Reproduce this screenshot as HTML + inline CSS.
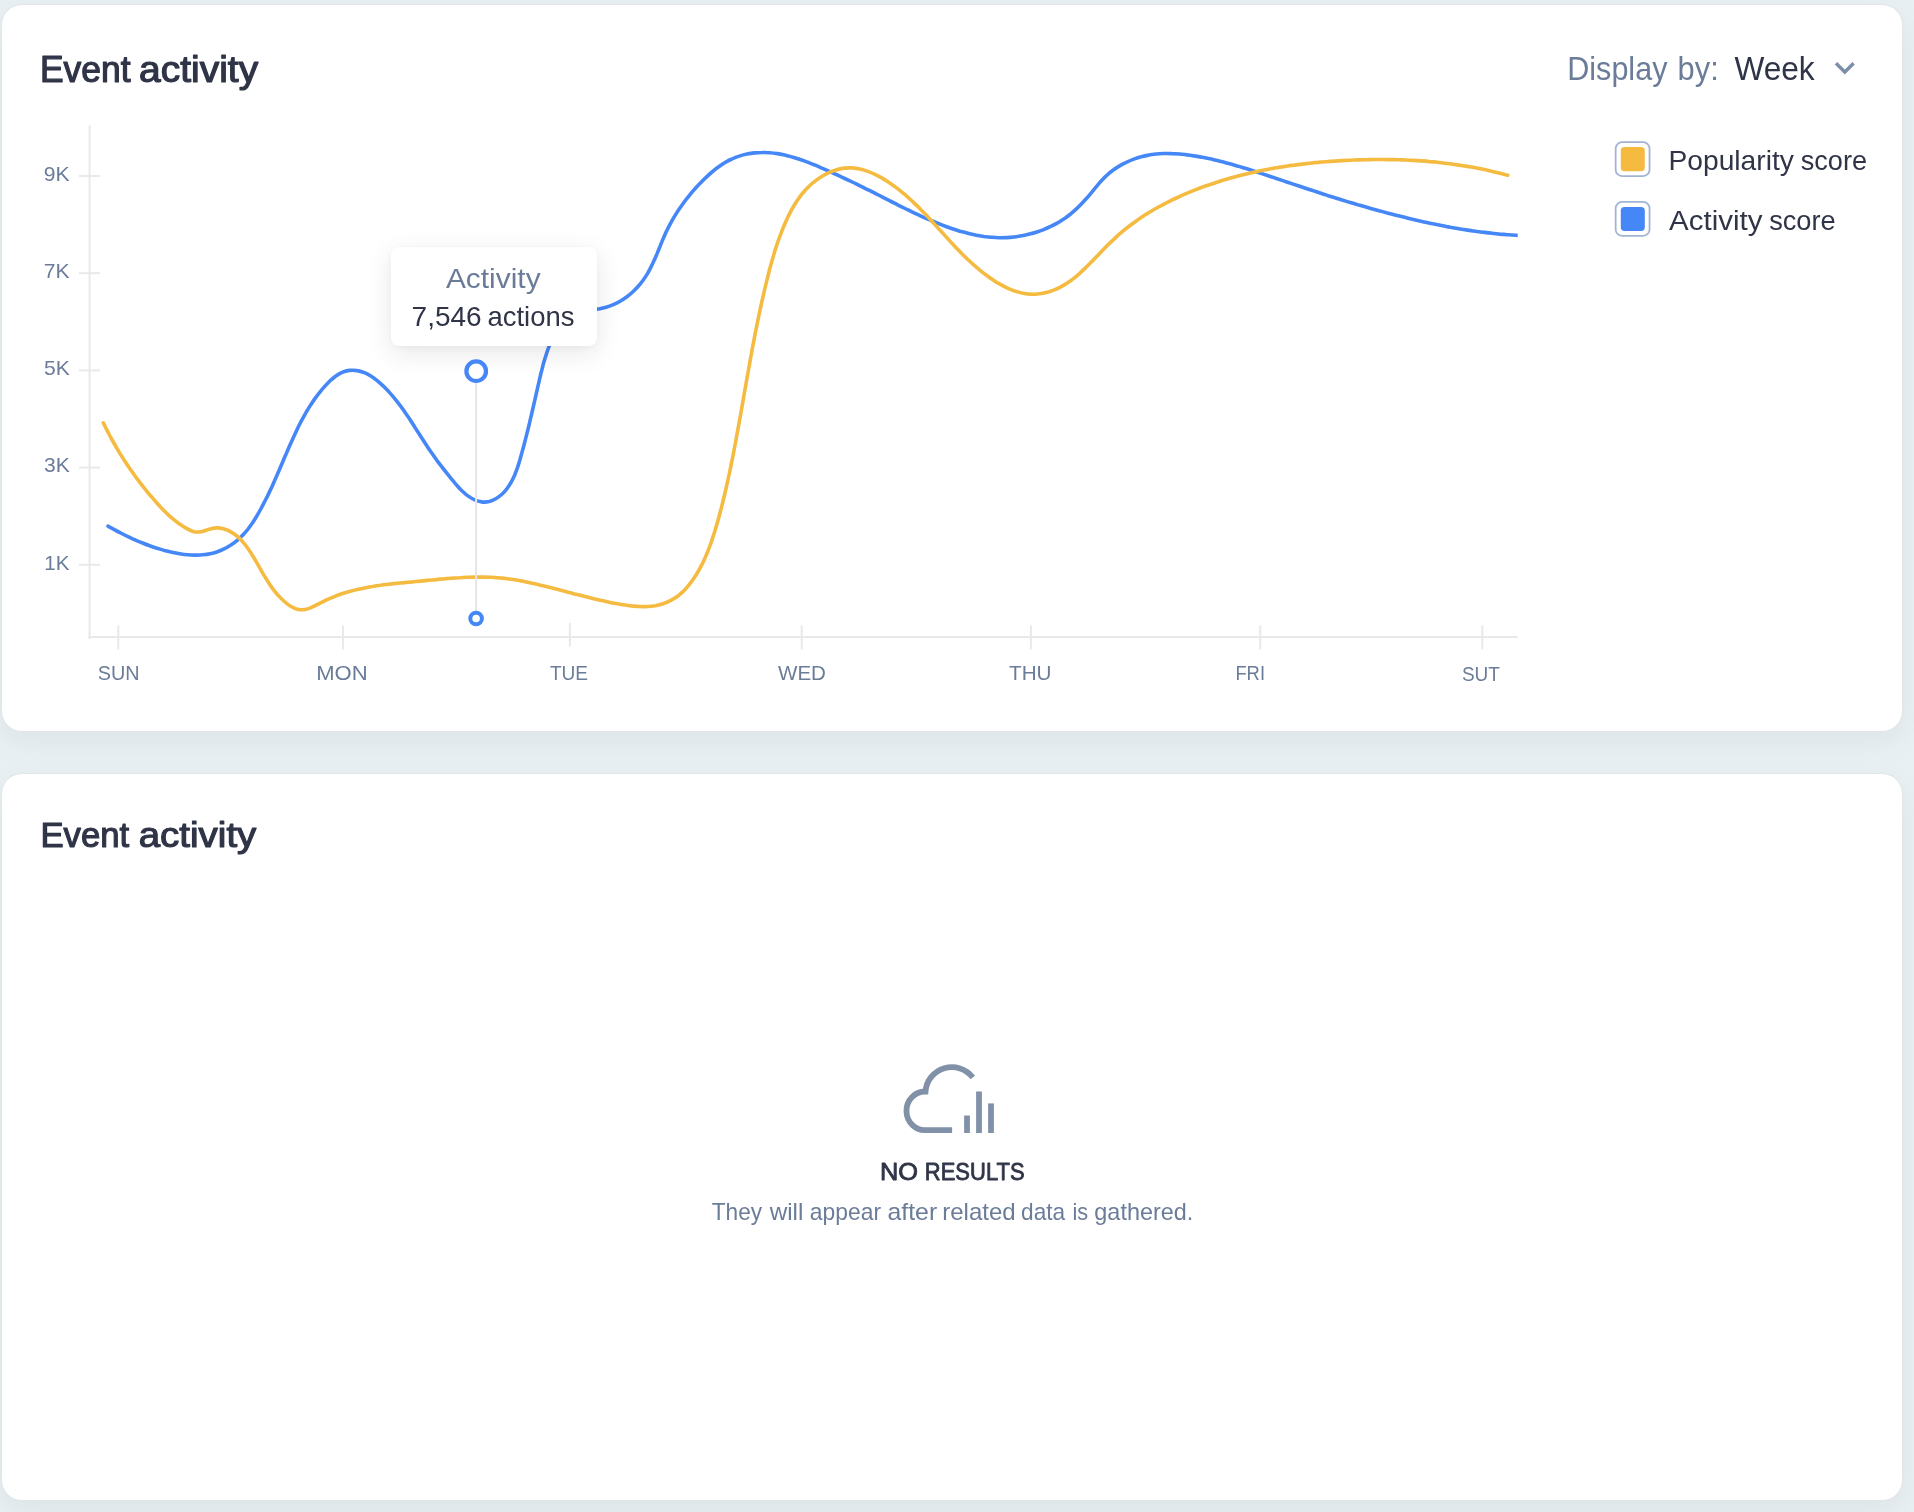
<!DOCTYPE html>
<html lang="en">
<head>
<meta charset="utf-8">
<title>Event activity</title>
<style>
  html, body { margin: 0; padding: 0; }
  body {
    width: 1914px; height: 1512px; overflow: hidden; position: relative;
    background: #e9f0f3;
    font-family: "Liberation Sans", sans-serif;
  }
  .card {
    position: absolute; left: 2px; width: 1900px; height: 726px;
    background: #ffffff; border-radius: 20px;
    box-shadow: 0 0 0 1px rgba(226, 228, 229, 0.9), 0 9px 26px rgba(120, 140, 150, 0.12);
  }
  #card1 { top: 4.5px; }
  #card2 { top: 774px; }
  #tooltip {
    position: absolute; left: 391.3px; top: 246.9px; width: 205.8px; height: 98.8px;
    background: #ffffff; border-radius: 8px;
    box-shadow: 0 7px 26px rgba(25, 28, 38, 0.10), 0 2px 6px rgba(25, 28, 38, 0.035);
  }
  svg { position: absolute; left: 0; top: 0; }
  #labels { will-change: transform; }
  text { font-family: "Liberation Sans", sans-serif; }
  .slate { fill: #6b7c99; }
  .dark { fill: #2f3447; }
</style>
</head>
<body>
<div class="card" id="card1"></div>
<div class="card" id="card2"></div>

<!-- chart layer (below tooltip) -->
<svg id="chart" width="1914" height="1512" viewBox="0 0 1914 1512">
  <!-- axes -->
  <g stroke="#e9e9ea" stroke-width="2" fill="none">
    <line x1="89.6" y1="125.6" x2="89.6" y2="638.9"/>
    <line x1="88.6" y1="636.9" x2="1517.5" y2="636.9"/>
    <line x1="79" y1="176" x2="100" y2="176"/>
    <line x1="79" y1="273.2" x2="100" y2="273.2"/>
    <line x1="79" y1="370.4" x2="100" y2="370.4"/>
    <line x1="79" y1="467.6" x2="100" y2="467.6"/>
    <line x1="79" y1="564.8" x2="100" y2="564.8"/>
    <line x1="118.3" y1="625.4" x2="118.3" y2="649.4"/>
    <line x1="343" y1="625.4" x2="343" y2="649.4"/>
    <line x1="569.9" y1="622.8" x2="569.9" y2="646.6"/>
    <line x1="801.7" y1="625.4" x2="801.7" y2="649.4"/>
    <line x1="1030.9" y1="625.4" x2="1030.9" y2="649.4"/>
    <line x1="1260.3" y1="625.4" x2="1260.3" y2="649.4"/>
    <line x1="1482.3" y1="625.4" x2="1482.3" y2="649.4"/>
  </g>
  <!-- series (blue under yellow) -->
  <clipPath id="plotclip"><rect x="90" y="100" width="1427.7" height="560"/></clipPath>
  <path d="M108.0 526.2C109.1 526.8 112.5 528.7 114.8 529.9C117.1 531.2 119.4 532.4 121.7 533.5C124.0 534.7 126.3 535.8 128.6 536.9C130.9 538.0 133.2 539.1 135.5 540.1C137.9 541.1 140.2 542.1 142.6 543.0C144.9 544.0 147.3 544.9 149.7 545.7C152.1 546.6 154.5 547.4 157.0 548.2C159.4 548.9 161.9 549.7 164.4 550.4C166.9 551.0 169.4 551.7 171.9 552.2C174.5 552.8 177.0 553.3 179.6 553.7C182.2 554.1 184.8 554.5 187.3 554.7C189.9 555.0 192.5 555.1 195.0 555.1C197.6 555.2 200.2 555.1 202.7 554.8C205.2 554.6 207.7 554.3 210.2 553.7C212.7 553.2 215.1 552.5 217.5 551.7C219.9 550.9 222.3 549.9 224.6 548.7C226.9 547.6 229.1 546.2 231.3 544.8C233.4 543.4 235.5 541.8 237.5 540.1C239.5 538.5 241.3 536.7 243.1 534.8C244.9 533.0 246.5 531.0 248.1 529.0C249.7 526.9 251.1 524.8 252.6 522.7C254.0 520.6 255.3 518.4 256.7 516.2C258.0 514.0 259.3 511.7 260.5 509.5C261.7 507.2 262.9 505.0 264.1 502.7C265.3 500.4 266.4 498.1 267.6 495.8C268.7 493.5 269.8 491.2 270.9 488.9C272.0 486.6 273.0 484.2 274.1 481.9C275.1 479.5 276.1 477.2 277.2 474.8C278.2 472.5 279.2 470.1 280.2 467.8C281.2 465.4 282.2 463.0 283.2 460.7C284.2 458.3 285.3 455.9 286.3 453.6C287.3 451.2 288.3 448.9 289.3 446.5C290.4 444.1 291.4 441.8 292.5 439.4C293.5 437.1 294.6 434.8 295.7 432.4C296.8 430.1 297.9 427.8 299.0 425.5C300.2 423.2 301.4 420.9 302.6 418.7C303.8 416.4 305.1 414.2 306.3 412.0C307.6 409.8 309.0 407.6 310.4 405.4C311.7 403.3 313.2 401.1 314.6 399.1C316.1 397.0 317.7 394.9 319.3 392.9C320.9 390.8 322.5 388.9 324.3 386.9C326.0 385.0 327.8 383.0 329.6 381.2C331.5 379.5 333.5 377.7 335.5 376.2C337.6 374.8 339.7 373.4 342.0 372.4C344.3 371.5 346.8 370.8 349.3 370.4C351.8 370.1 354.5 370.2 357.0 370.6C359.5 370.9 362.1 371.7 364.4 372.6C366.8 373.6 369.1 374.9 371.2 376.2C373.4 377.6 375.5 379.3 377.5 380.9C379.5 382.6 381.4 384.3 383.3 386.1C385.1 387.9 386.9 389.7 388.7 391.6C390.4 393.5 392.1 395.4 393.7 397.3C395.4 399.3 397.0 401.3 398.5 403.3C400.1 405.3 401.6 407.4 403.1 409.5C404.5 411.6 406.0 413.7 407.4 415.8C408.9 417.9 410.3 420.1 411.7 422.3C413.1 424.4 414.5 426.6 415.8 428.8C417.2 430.9 418.6 433.1 420.0 435.3C421.4 437.5 422.8 439.6 424.2 441.8C425.6 443.9 427.0 446.1 428.4 448.2C429.8 450.3 431.3 452.4 432.8 454.5C434.2 456.6 435.7 458.7 437.2 460.8C438.8 462.8 440.3 464.9 441.9 466.9C443.4 468.9 445.0 470.9 446.6 472.9C448.2 474.9 449.8 476.9 451.4 478.9C453.1 480.9 454.7 482.9 456.4 484.9C458.1 486.8 459.8 488.8 461.6 490.5C463.5 492.3 465.4 494.1 467.5 495.6C469.6 497.1 471.9 498.6 474.2 499.6C476.6 500.7 479.2 501.6 481.7 501.9C484.1 502.3 486.7 502.1 489.2 501.6C491.6 501.0 494.0 499.8 496.2 498.5C498.3 497.3 500.3 495.7 502.2 494.0C504.0 492.4 505.6 490.5 507.1 488.5C508.6 486.5 510.0 484.4 511.2 482.2C512.4 480.0 513.5 477.6 514.6 475.2C515.6 472.8 516.5 470.4 517.4 467.9C518.2 465.4 519.0 462.8 519.8 460.3C520.5 457.7 521.2 455.1 521.9 452.6C522.6 450.1 523.3 447.6 524.0 445.0C524.6 442.5 525.3 440.0 525.9 437.6C526.5 435.1 527.2 432.6 527.8 430.1C528.4 427.7 529.0 425.2 529.6 422.7C530.1 420.3 530.7 417.8 531.3 415.4C531.9 412.9 532.4 410.5 533.0 408.0C533.6 405.5 534.1 403.1 534.7 400.6C535.3 398.1 535.8 395.7 536.4 393.2C537.0 390.7 537.5 388.2 538.1 385.7C538.7 383.2 539.3 380.7 539.8 378.2C540.4 375.7 541.0 373.1 541.7 370.6C542.3 368.1 542.9 365.5 543.6 363.0C544.3 360.5 545.1 358.0 545.9 355.6C546.7 353.1 547.5 350.6 548.4 348.2C549.3 345.8 550.3 343.4 551.3 341.0C552.3 338.7 553.5 336.4 554.7 334.2C555.9 331.9 557.2 329.7 558.6 327.6C560.0 325.5 561.5 323.3 563.2 321.5C564.9 319.7 566.7 317.9 568.7 316.6C570.8 315.2 573.2 314.2 575.6 313.3C578.0 312.5 580.7 312.0 583.2 311.4C585.8 310.9 588.4 310.6 591.0 310.2C593.5 309.8 596.1 309.5 598.6 309.0C601.1 308.6 603.6 308.0 606.1 307.3C608.5 306.6 610.9 305.7 613.3 304.7C615.6 303.7 617.9 302.5 620.1 301.2C622.4 299.9 624.5 298.5 626.6 297.0C628.7 295.4 630.7 293.8 632.6 292.0C634.5 290.3 636.3 288.4 638.0 286.5C639.8 284.6 641.4 282.6 642.9 280.5C644.4 278.4 645.8 276.3 647.2 274.1C648.5 271.9 649.7 269.6 650.8 267.4C652.0 265.1 653.1 262.8 654.1 260.4C655.2 258.1 656.2 255.7 657.2 253.4C658.1 251.0 659.1 248.6 660.1 246.2C661.0 243.8 662.0 241.4 663.0 239.1C664.0 236.7 665.1 234.4 666.1 232.0C667.2 229.7 668.4 227.4 669.6 225.1C670.8 222.9 672.0 220.6 673.3 218.4C674.6 216.2 676.0 214.0 677.3 211.9C678.7 209.7 680.2 207.6 681.7 205.5C683.1 203.4 684.7 201.3 686.2 199.3C687.8 197.3 689.4 195.3 691.0 193.3C692.7 191.4 694.4 189.4 696.1 187.5C697.8 185.6 699.6 183.8 701.4 182.0C703.2 180.1 705.0 178.3 706.9 176.6C708.8 174.8 710.7 173.1 712.6 171.5C714.6 169.8 716.6 168.2 718.7 166.8C720.7 165.3 722.9 163.8 725.1 162.5C727.3 161.2 729.6 160.0 732.0 159.0C734.3 157.9 736.8 156.9 739.3 156.1C741.8 155.3 744.4 154.6 746.9 154.1C749.5 153.6 752.0 153.2 754.5 152.9C757.1 152.6 759.6 152.5 762.1 152.5C764.7 152.4 767.2 152.5 769.7 152.7C772.2 152.9 774.7 153.2 777.2 153.6C779.7 154.0 782.2 154.5 784.7 155.0C787.2 155.6 789.6 156.3 792.1 157.0C794.6 157.7 797.0 158.4 799.5 159.3C801.9 160.1 804.3 161.0 806.8 161.9C809.2 162.8 811.6 163.8 814.0 164.7C816.4 165.7 818.8 166.7 821.2 167.8C823.6 168.8 826.0 169.8 828.3 170.9C830.7 171.9 833.0 173.0 835.4 174.1C837.7 175.1 840.0 176.2 842.3 177.3C844.7 178.4 847.0 179.5 849.3 180.6C851.6 181.7 853.9 182.8 856.2 183.9C858.5 185.1 860.8 186.2 863.1 187.3C865.3 188.5 867.6 189.6 869.9 190.7C872.2 191.9 874.4 193.0 876.7 194.2C879.0 195.3 881.3 196.5 883.5 197.7C885.8 198.8 888.1 200.0 890.4 201.1C892.6 202.3 894.9 203.4 897.2 204.6C899.5 205.7 901.8 206.9 904.1 208.0C906.4 209.1 908.7 210.3 911.0 211.4C913.3 212.5 915.7 213.6 918.0 214.7C920.3 215.8 922.7 216.8 925.0 217.9C927.4 218.9 929.8 220.0 932.2 221.0C934.6 222.0 937.0 223.0 939.4 223.9C941.8 224.9 944.2 225.8 946.6 226.7C949.1 227.6 951.5 228.5 954.0 229.3C956.4 230.1 958.9 230.8 961.3 231.6C963.8 232.3 966.3 232.9 968.8 233.5C971.3 234.1 973.8 234.7 976.3 235.2C978.8 235.7 981.3 236.1 983.8 236.5C986.3 236.8 988.8 237.1 991.3 237.3C993.9 237.5 996.4 237.7 998.9 237.7C1001.5 237.8 1004.0 237.7 1006.6 237.6C1009.1 237.5 1011.7 237.3 1014.2 237.0C1016.8 236.7 1019.3 236.3 1021.9 235.8C1024.4 235.4 1027.0 234.8 1029.5 234.1C1032.0 233.5 1034.5 232.8 1037.0 232.0C1039.4 231.2 1041.9 230.3 1044.3 229.3C1046.7 228.4 1049.0 227.3 1051.3 226.2C1053.6 225.1 1055.9 223.9 1058.1 222.7C1060.3 221.4 1062.4 220.0 1064.5 218.6C1066.6 217.1 1068.6 215.6 1070.6 214.0C1072.6 212.3 1074.5 210.7 1076.4 208.9C1078.2 207.2 1080.1 205.4 1081.8 203.5C1083.6 201.6 1085.4 199.7 1087.1 197.8C1088.8 195.8 1090.4 193.8 1092.1 191.8C1093.7 189.8 1095.3 187.8 1097.0 185.8C1098.6 183.8 1100.3 181.8 1102.1 180.0C1103.8 178.1 1105.6 176.3 1107.6 174.6C1109.5 172.9 1111.5 171.3 1113.6 169.8C1115.6 168.3 1117.8 166.9 1120.0 165.6C1122.2 164.3 1124.4 163.1 1126.8 162.1C1129.1 161.0 1131.4 160.0 1133.8 159.1C1136.3 158.2 1138.7 157.4 1141.2 156.8C1143.6 156.1 1146.2 155.5 1148.7 155.1C1151.2 154.6 1153.7 154.3 1156.3 154.0C1158.8 153.7 1161.4 153.6 1164.0 153.5C1166.5 153.4 1169.1 153.5 1171.7 153.6C1174.2 153.6 1176.8 153.8 1179.4 154.0C1182.0 154.3 1184.5 154.5 1187.1 154.9C1189.7 155.2 1192.2 155.6 1194.8 156.0C1197.3 156.4 1199.9 156.8 1202.4 157.3C1204.9 157.8 1207.4 158.3 1209.9 158.8C1212.4 159.4 1214.9 159.9 1217.4 160.5C1219.9 161.1 1222.4 161.8 1224.9 162.4C1227.4 163.1 1229.8 163.7 1232.3 164.4C1234.8 165.1 1237.2 165.8 1239.7 166.6C1242.1 167.3 1244.6 168.1 1247.0 168.8C1249.5 169.6 1251.9 170.4 1254.4 171.2C1256.8 171.9 1259.2 172.7 1261.7 173.6C1264.1 174.4 1266.5 175.2 1269.0 176.0C1271.4 176.8 1273.8 177.6 1276.3 178.5C1278.7 179.3 1281.1 180.1 1283.6 180.9C1286.0 181.7 1288.4 182.6 1290.9 183.4C1293.3 184.2 1295.7 185.0 1298.2 185.8C1300.6 186.6 1303.0 187.4 1305.5 188.2C1307.9 189.1 1310.3 189.9 1312.8 190.6C1315.2 191.4 1317.7 192.2 1320.1 193.0C1322.5 193.8 1325.0 194.6 1327.4 195.4C1329.9 196.1 1332.3 196.9 1334.8 197.7C1337.2 198.4 1339.7 199.2 1342.1 200.0C1344.6 200.7 1347.0 201.5 1349.5 202.2C1352.0 202.9 1354.4 203.7 1356.9 204.4C1359.3 205.1 1361.8 205.9 1364.3 206.6C1366.7 207.3 1369.2 208.0 1371.7 208.7C1374.2 209.4 1376.6 210.1 1379.1 210.8C1381.6 211.4 1384.1 212.1 1386.5 212.8C1389.0 213.4 1391.5 214.1 1394.0 214.7C1396.5 215.4 1399.0 216.0 1401.5 216.6C1404.0 217.3 1406.5 217.9 1409.0 218.5C1411.5 219.1 1414.0 219.7 1416.5 220.2C1419.0 220.8 1421.5 221.4 1424.0 221.9C1426.5 222.5 1429.0 223.0 1431.5 223.6C1434.0 224.1 1436.5 224.6 1439.0 225.1C1441.6 225.6 1444.1 226.1 1446.6 226.6C1449.1 227.0 1451.7 227.5 1454.2 227.9C1456.7 228.4 1459.2 228.8 1461.8 229.2C1464.3 229.6 1466.8 230.0 1469.4 230.4C1471.9 230.8 1474.5 231.1 1477.0 231.5C1479.5 231.8 1482.1 232.1 1484.6 232.4C1487.2 232.7 1489.7 233.0 1492.3 233.3C1494.8 233.6 1497.4 233.8 1499.9 234.1C1502.5 234.3 1505.0 234.5 1507.6 234.7C1510.2 234.9 1512.7 235.1 1515.3 235.2C1517.9 235.4 1521.7 235.5 1523.0 235.6" fill="none" stroke="#4587f6" stroke-width="3.6" stroke-linecap="round" stroke-linejoin="round" clip-path="url(#plotclip)"/>
  <path d="M103.3 422.8C103.9 424.0 105.6 427.6 106.8 429.9C108.0 432.3 109.3 434.7 110.5 437.0C111.8 439.3 113.1 441.7 114.4 444.0C115.7 446.3 117.0 448.6 118.4 450.8C119.7 453.1 121.1 455.4 122.6 457.6C124.0 459.8 125.4 462.1 126.9 464.3C128.3 466.5 129.8 468.7 131.4 470.8C132.9 473.0 134.4 475.1 136.0 477.3C137.6 479.4 139.1 481.5 140.8 483.6C142.4 485.7 144.0 487.8 145.7 489.9C147.4 491.9 149.0 494.0 150.8 496.0C152.5 498.0 154.2 500.1 156.0 502.0C157.7 504.0 159.5 506.0 161.4 507.9C163.2 509.8 165.1 511.7 167.0 513.6C168.9 515.4 170.9 517.2 172.9 518.9C175.0 520.6 177.1 522.2 179.2 523.8C181.4 525.3 183.7 526.8 186.0 528.1C188.3 529.4 190.8 530.8 193.2 531.4C195.7 532.1 198.2 532.1 200.7 531.8C203.3 531.5 205.8 530.2 208.4 529.5C211.0 528.9 213.7 528.0 216.3 527.9C219.0 527.8 221.7 528.3 224.2 529.0C226.7 529.7 229.1 530.8 231.3 532.1C233.5 533.3 235.6 534.9 237.5 536.5C239.5 538.2 241.3 540.1 243.0 542.1C244.8 544.1 246.4 546.3 248.0 548.5C249.5 550.7 251.0 553.1 252.4 555.4C253.9 557.7 255.2 560.1 256.6 562.4C258.0 564.8 259.3 567.1 260.6 569.4C261.9 571.8 263.2 574.1 264.6 576.3C266.0 578.6 267.3 580.8 268.8 583.0C270.2 585.2 271.7 587.3 273.2 589.4C274.8 591.5 276.4 593.5 278.2 595.4C280.0 597.4 281.8 599.2 283.8 601.0C285.8 602.7 287.9 604.6 290.2 606.0C292.5 607.3 294.9 608.8 297.3 609.3C299.8 609.9 302.4 609.9 305.0 609.5C307.5 609.1 310.1 607.9 312.5 606.9C315.0 605.9 317.4 604.6 319.8 603.4C322.3 602.2 324.7 600.9 327.1 599.7C329.5 598.6 332.0 597.6 334.5 596.6C336.9 595.6 339.4 594.7 341.9 593.8C344.4 593.0 347.0 592.2 349.5 591.5C352.0 590.8 354.6 590.1 357.1 589.5C359.7 588.9 362.3 588.4 364.8 587.9C367.4 587.4 370.0 586.9 372.6 586.5C375.2 586.0 377.8 585.6 380.5 585.3C383.1 584.9 385.7 584.6 388.3 584.3C391.0 584.0 393.6 583.7 396.2 583.4C398.9 583.1 401.5 582.9 404.2 582.6C406.8 582.4 409.5 582.1 412.1 581.9C414.8 581.6 417.4 581.4 420.1 581.1C422.8 580.9 425.4 580.6 428.1 580.3C430.7 580.1 433.4 579.8 436.0 579.6C438.7 579.3 441.3 579.1 444.0 578.9C446.6 578.6 449.3 578.4 451.9 578.2C454.6 578.0 457.2 577.8 459.9 577.7C462.5 577.5 465.2 577.4 467.8 577.3C470.4 577.2 473.1 577.1 475.7 577.1C478.4 577.1 481.0 577.1 483.6 577.1C486.3 577.1 488.9 577.2 491.5 577.3C494.2 577.5 496.8 577.6 499.4 577.9C502.0 578.1 504.7 578.4 507.3 578.7C509.9 579.0 512.5 579.4 515.1 579.8C517.8 580.3 520.4 580.8 523.0 581.3C525.6 581.8 528.2 582.3 530.8 582.9C533.4 583.5 536.0 584.1 538.6 584.7C541.2 585.3 543.8 586.0 546.3 586.6C548.9 587.3 551.5 587.9 554.1 588.6C556.6 589.2 559.2 589.9 561.8 590.6C564.4 591.2 566.9 591.9 569.5 592.6C572.0 593.2 574.6 593.9 577.2 594.5C579.7 595.2 582.3 595.8 584.9 596.5C587.4 597.1 590.0 597.7 592.6 598.4C595.1 599.0 597.7 599.6 600.3 600.2C602.9 600.8 605.4 601.3 608.0 601.9C610.6 602.5 613.2 603.0 615.8 603.5C618.4 604.0 621.1 604.4 623.7 604.8C626.3 605.2 629.0 605.6 631.6 605.9C634.2 606.1 636.9 606.4 639.6 606.5C642.2 606.6 644.9 606.7 647.6 606.5C650.2 606.4 652.9 606.1 655.4 605.7C658.0 605.2 660.6 604.6 663.1 603.7C665.6 602.9 668.1 601.9 670.4 600.7C672.8 599.5 675.0 598.1 677.2 596.6C679.3 595.0 681.3 593.2 683.2 591.4C685.1 589.5 686.9 587.5 688.6 585.4C690.3 583.3 691.9 581.2 693.4 579.0C694.9 576.8 696.3 574.6 697.7 572.3C699.0 570.0 700.3 567.7 701.5 565.4C702.7 563.0 703.9 560.6 704.9 558.2C706.0 555.8 707.0 553.4 708.0 550.9C709.0 548.5 709.9 546.0 710.8 543.5C711.7 541.0 712.5 538.5 713.3 535.9C714.2 533.4 714.9 530.9 715.7 528.3C716.5 525.8 717.2 523.2 717.9 520.7C718.6 518.1 719.3 515.5 720.0 513.0C720.7 510.4 721.4 507.8 722.0 505.3C722.7 502.7 723.3 500.1 723.9 497.5C724.5 495.0 725.1 492.4 725.7 489.8C726.3 487.2 726.9 484.6 727.5 482.0C728.1 479.4 728.6 476.8 729.2 474.2C729.7 471.7 730.3 469.1 730.8 466.5C731.3 463.9 731.8 461.3 732.4 458.7C732.9 456.1 733.4 453.5 733.9 450.9C734.4 448.2 734.9 445.6 735.4 443.0C735.9 440.4 736.4 437.8 736.8 435.2C737.3 432.6 737.8 430.0 738.3 427.4C738.7 424.8 739.2 422.2 739.7 419.6C740.2 417.0 740.6 414.4 741.1 411.8C741.5 409.1 742.0 406.5 742.5 403.9C742.9 401.3 743.4 398.7 743.8 396.1C744.3 393.5 744.8 390.9 745.2 388.3C745.7 385.7 746.1 383.1 746.6 380.4C747.1 377.8 747.5 375.2 748.0 372.6C748.4 370.0 748.9 367.4 749.4 364.8C749.9 362.2 750.3 359.6 750.8 357.0C751.3 354.4 751.8 351.8 752.2 349.1C752.7 346.5 753.2 343.9 753.7 341.3C754.2 338.7 754.7 336.1 755.2 333.5C755.7 330.9 756.3 328.3 756.8 325.7C757.3 323.1 757.8 320.5 758.4 317.9C758.9 315.3 759.4 312.7 760.0 310.1C760.6 307.5 761.1 305.0 761.7 302.4C762.3 299.8 762.9 297.2 763.5 294.6C764.0 292.0 764.7 289.4 765.3 286.8C765.9 284.2 766.5 281.7 767.2 279.1C767.8 276.5 768.5 273.9 769.1 271.3C769.8 268.8 770.5 266.2 771.2 263.6C771.9 261.1 772.6 258.5 773.4 256.0C774.1 253.4 774.9 250.9 775.7 248.4C776.5 245.8 777.4 243.3 778.2 240.8C779.1 238.3 780.0 235.8 781.0 233.4C781.9 230.9 782.9 228.5 783.9 226.0C784.9 223.6 786.0 221.2 787.1 218.8C788.2 216.4 789.4 214.0 790.6 211.7C791.8 209.4 793.1 207.1 794.5 204.8C795.8 202.6 797.3 200.4 798.8 198.3C800.3 196.1 801.9 194.0 803.7 192.0C805.4 190.0 807.2 188.0 809.2 186.2C811.1 184.3 813.2 182.5 815.4 180.9C817.5 179.2 819.8 177.6 822.1 176.2C824.5 174.8 826.9 173.5 829.3 172.4C831.8 171.3 834.3 170.4 836.8 169.7C839.3 169.0 841.9 168.4 844.4 168.1C847.0 167.8 849.5 167.8 852.1 167.9C854.6 168.1 857.2 168.5 859.7 169.0C862.2 169.5 864.7 170.3 867.2 171.1C869.6 172.0 872.1 173.0 874.5 174.2C876.9 175.3 879.3 176.6 881.7 177.9C884.0 179.3 886.3 180.7 888.6 182.2C890.9 183.7 893.1 185.3 895.2 186.9C897.4 188.5 899.5 190.1 901.6 191.8C903.6 193.5 905.7 195.2 907.7 197.0C909.6 198.8 911.6 200.6 913.5 202.4C915.4 204.2 917.3 206.1 919.2 207.9C921.1 209.8 922.9 211.7 924.7 213.6C926.6 215.5 928.4 217.4 930.2 219.4C932.0 221.3 933.7 223.2 935.5 225.2C937.3 227.2 939.1 229.1 940.8 231.1C942.6 233.0 944.4 235.0 946.1 236.9C947.9 238.9 949.7 240.8 951.5 242.8C953.3 244.7 955.1 246.7 956.9 248.6C958.7 250.5 960.6 252.4 962.4 254.2C964.3 256.1 966.2 258.0 968.1 259.8C970.0 261.6 972.0 263.4 974.0 265.2C976.0 266.9 978.0 268.6 980.1 270.3C982.1 272.0 984.2 273.7 986.4 275.3C988.5 276.9 990.7 278.5 993.0 279.9C995.2 281.4 997.5 282.9 999.9 284.2C1002.2 285.5 1004.6 286.8 1007.0 287.9C1009.4 289.0 1011.9 290.0 1014.3 290.9C1016.8 291.7 1019.3 292.4 1021.9 293.0C1024.4 293.5 1027.0 293.9 1029.6 294.1C1032.2 294.3 1034.8 294.2 1037.4 294.0C1040.0 293.8 1042.7 293.4 1045.3 292.8C1047.9 292.2 1050.5 291.4 1053.0 290.4C1055.6 289.5 1058.0 288.4 1060.4 287.2C1062.8 285.9 1065.1 284.6 1067.3 283.1C1069.5 281.6 1071.6 280.1 1073.7 278.4C1075.7 276.8 1077.7 275.0 1079.7 273.3C1081.7 271.5 1083.6 269.7 1085.5 267.9C1087.4 266.0 1089.2 264.1 1091.1 262.3C1093.0 260.4 1094.8 258.5 1096.6 256.5C1098.5 254.6 1100.3 252.7 1102.2 250.8C1104.0 248.9 1105.9 247.0 1107.8 245.1C1109.6 243.3 1111.5 241.4 1113.5 239.6C1115.4 237.8 1117.3 236.0 1119.3 234.2C1121.3 232.5 1123.4 230.8 1125.4 229.1C1127.5 227.4 1129.6 225.8 1131.7 224.2C1133.8 222.6 1136.0 221.1 1138.1 219.6C1140.3 218.0 1142.5 216.6 1144.8 215.1C1147.0 213.7 1149.3 212.3 1151.6 211.0C1153.8 209.6 1156.1 208.3 1158.5 207.0C1160.8 205.7 1163.1 204.5 1165.5 203.3C1167.9 202.1 1170.3 200.9 1172.7 199.7C1175.0 198.6 1177.5 197.5 1179.9 196.4C1182.3 195.3 1184.7 194.2 1187.2 193.2C1189.6 192.2 1192.1 191.2 1194.5 190.2C1197.0 189.2 1199.4 188.3 1201.9 187.3C1204.4 186.4 1206.9 185.5 1209.4 184.7C1211.9 183.8 1214.4 183.0 1216.9 182.2C1219.4 181.4 1222.0 180.6 1224.5 179.8C1227.0 179.1 1229.6 178.3 1232.1 177.6C1234.7 176.9 1237.2 176.2 1239.8 175.6C1242.3 174.9 1244.9 174.3 1247.5 173.7C1250.1 173.1 1252.6 172.5 1255.2 171.9C1257.8 171.4 1260.4 170.8 1263.0 170.3C1265.6 169.8 1268.2 169.3 1270.8 168.8C1273.4 168.3 1276.1 167.9 1278.7 167.4C1281.3 167.0 1283.9 166.6 1286.5 166.2C1289.2 165.8 1291.8 165.4 1294.4 165.1C1297.1 164.7 1299.7 164.4 1302.3 164.1C1305.0 163.8 1307.6 163.5 1310.3 163.2C1312.9 162.9 1315.6 162.6 1318.2 162.4C1320.9 162.1 1323.5 161.9 1326.2 161.7C1328.8 161.5 1331.5 161.3 1334.1 161.1C1336.8 160.9 1339.4 160.8 1342.1 160.6C1344.7 160.5 1347.4 160.3 1350.1 160.2C1352.7 160.1 1355.4 160.0 1358.0 159.9C1360.7 159.8 1363.3 159.7 1366.0 159.7C1368.6 159.6 1371.3 159.6 1373.9 159.5C1376.6 159.5 1379.2 159.5 1381.9 159.5C1384.5 159.5 1387.2 159.5 1389.8 159.6C1392.5 159.6 1395.1 159.7 1397.8 159.7C1400.4 159.8 1403.1 159.9 1405.7 160.0C1408.3 160.1 1411.0 160.3 1413.6 160.4C1416.3 160.6 1418.9 160.7 1421.5 160.9C1424.2 161.1 1426.8 161.3 1429.4 161.6C1432.1 161.8 1434.7 162.0 1437.3 162.3C1440.0 162.6 1442.6 162.9 1445.2 163.2C1447.9 163.5 1450.5 163.8 1453.1 164.2C1455.7 164.6 1458.3 164.9 1461.0 165.4C1463.6 165.8 1466.2 166.2 1468.8 166.6C1471.4 167.1 1474.0 167.6 1476.6 168.1C1479.2 168.6 1481.8 169.1 1484.4 169.6C1487.1 170.2 1489.6 170.8 1492.2 171.4C1494.8 172.0 1497.4 172.6 1500.0 173.2C1502.6 173.9 1506.5 174.9 1507.8 175.3" fill="none" stroke="#f5bb41" stroke-width="3.6" stroke-linecap="round" stroke-linejoin="round"/>
  <!-- hover guide (above series) -->
  <line x1="476.1" y1="381" x2="476.1" y2="612" stroke="#e6e6e7" stroke-width="2"/>
</svg>

<div id="tooltip"></div>

<!-- text + icons layer -->
<svg id="labels" width="1914" height="1512" viewBox="0 0 1914 1512">

  <!-- hover markers -->
  <circle cx="476.2" cy="371.2" r="9.8" fill="#ffffff" stroke="#4587f6" stroke-width="4.2"/>
  <circle cx="476.1" cy="618.5" r="5.8" fill="#ffffff" stroke="#4587f6" stroke-width="4"/>

  <!-- all text (fitted to target ink boxes) -->
  <text class="dark" x="40.00" y="81.5" font-size="36.1" stroke="#2f3447" stroke-width="1.2" stroke-linejoin="round" textLength="90.52" lengthAdjust="spacingAndGlyphs">Event</text>
  <text class="dark" x="139.11" y="81.5" font-size="36.1" stroke="#2f3447" stroke-width="1.2" stroke-linejoin="round" textLength="119.01" lengthAdjust="spacingAndGlyphs">activity</text>
  <text class="dark" x="40.40" y="847.2" font-size="35.8" stroke="#2f3447" stroke-width="1.2" stroke-linejoin="round" textLength="88.78" lengthAdjust="spacingAndGlyphs">Event</text>
  <text class="dark" x="138.73" y="847.2" font-size="35.8" stroke="#2f3447" stroke-width="1.2" stroke-linejoin="round" textLength="117.62" lengthAdjust="spacingAndGlyphs">activity</text>
  <text class="slate" x="1567.28" y="79.8" font-size="32.3" textLength="100.16" lengthAdjust="spacingAndGlyphs">Display</text>
  <text class="slate" x="1677.62" y="79.8" font-size="32.3" textLength="41.11" lengthAdjust="spacingAndGlyphs">by:</text>
  <text class="dark" x="1734.40" y="79.8" font-size="32.3" textLength="80.29" lengthAdjust="spacingAndGlyphs">Week</text>
  <text class="dark" x="1668.50" y="169.8" font-size="27.3" textLength="125.38" lengthAdjust="spacingAndGlyphs">Popularity</text>
  <text class="dark" x="1800.69" y="169.8" font-size="27.3" textLength="66.35" lengthAdjust="spacingAndGlyphs">score</text>
  <text class="dark" x="1669.10" y="229.5" font-size="27.3" textLength="93.35" lengthAdjust="spacingAndGlyphs">Activity</text>
  <text class="dark" x="1769.13" y="229.5" font-size="27.3" textLength="66.58" lengthAdjust="spacingAndGlyphs">score</text>
  <text class="slate" x="445.90" y="288.0" font-size="27.4" textLength="94.70" lengthAdjust="spacingAndGlyphs">Activity</text>
  <text class="dark" x="411.60" y="325.6" font-size="27.4" textLength="70.01" lengthAdjust="spacingAndGlyphs">7,546</text>
  <text class="dark" x="487.40" y="325.6" font-size="27.4" textLength="87.08" lengthAdjust="spacingAndGlyphs">actions</text>
  <text class="slate" x="43.80" y="180.7" font-size="21" textLength="25.87" lengthAdjust="spacingAndGlyphs">9K</text>
  <text class="slate" x="43.80" y="277.9" font-size="21" textLength="25.87" lengthAdjust="spacingAndGlyphs">7K</text>
  <text class="slate" x="43.94" y="375.1" font-size="21" textLength="25.82" lengthAdjust="spacingAndGlyphs">5K</text>
  <text class="slate" x="43.95" y="472.4" font-size="21" textLength="25.82" lengthAdjust="spacingAndGlyphs">3K</text>
  <text class="slate" x="44.30" y="569.6" font-size="21" textLength="25.23" lengthAdjust="spacingAndGlyphs">1K</text>
  <text class="slate" x="97.83" y="680.3" font-size="21" textLength="41.83" lengthAdjust="spacingAndGlyphs">SUN</text>
  <text class="slate" x="316.18" y="680.3" font-size="21" textLength="51.50" lengthAdjust="spacingAndGlyphs">MON</text>
  <text class="slate" x="549.90" y="680.3" font-size="21" textLength="38.17" lengthAdjust="spacingAndGlyphs">TUE</text>
  <text class="slate" x="778.00" y="680.3" font-size="21" textLength="47.98" lengthAdjust="spacingAndGlyphs">WED</text>
  <text class="slate" x="1009.00" y="680.3" font-size="21" textLength="42.54" lengthAdjust="spacingAndGlyphs">THU</text>
  <text class="slate" x="1235.41" y="680.3" font-size="21" textLength="29.57" lengthAdjust="spacingAndGlyphs">FRI</text>
  <text class="slate" x="1461.96" y="680.9" font-size="21" textLength="37.97" lengthAdjust="spacingAndGlyphs">SUT</text>
  <text class="dark" x="880.07" y="1180.4" font-size="23.8" stroke="#2f3447" stroke-width="0.8" stroke-linejoin="round" textLength="38.04" lengthAdjust="spacingAndGlyphs">NO</text>
  <text class="dark" x="924.87" y="1180.4" font-size="23.8" stroke="#2f3447" stroke-width="0.8" stroke-linejoin="round" textLength="99.69" lengthAdjust="spacingAndGlyphs">RESULTS</text>
  <text class="slate" x="711.68" y="1219.8" font-size="23.2" textLength="50.43" lengthAdjust="spacingAndGlyphs">They</text>
  <text class="slate" x="769.70" y="1219.8" font-size="23.2" textLength="33.73" lengthAdjust="spacingAndGlyphs">will</text>
  <text class="slate" x="809.80" y="1219.8" font-size="23.2" textLength="71.24" lengthAdjust="spacingAndGlyphs">appear</text>
  <text class="slate" x="887.50" y="1219.8" font-size="23.2" textLength="49.71" lengthAdjust="spacingAndGlyphs">after</text>
  <text class="slate" x="942.23" y="1219.8" font-size="23.2" textLength="73.45" lengthAdjust="spacingAndGlyphs">related</text>
  <text class="slate" x="1021.04" y="1219.8" font-size="23.2" textLength="44.11" lengthAdjust="spacingAndGlyphs">data</text>
  <text class="slate" x="1072.44" y="1219.8" font-size="23.2" textLength="15.68" lengthAdjust="spacingAndGlyphs">is</text>
  <text class="slate" x="1094.35" y="1219.8" font-size="23.2" textLength="98.96" lengthAdjust="spacingAndGlyphs">gathered.</text>
  <!-- display by chevron -->
  <path d="M1836 63.2 L1844.8 72 L1853.6 63.2" fill="none" stroke="#7d8ea8" stroke-width="3.4" stroke-linecap="butt" stroke-linejoin="miter"/>

  <!-- legend -->
  <rect x="1615.65" y="142.15" width="33.9" height="33.9" rx="6.4" fill="#ffffff" stroke="#a2b4d4" stroke-width="1.8"/>
  <rect x="1620.8" y="147.1" width="24" height="24.2" rx="3.7" fill="#f5bb41"/>
  <rect x="1615.65" y="201.95" width="33.9" height="33.9" rx="6.4" fill="#ffffff" stroke="#a2b4d4" stroke-width="1.8"/>
  <rect x="1620.8" y="206.9" width="24" height="24" rx="3.7" fill="#4587f6"/>



  <!-- empty state -->
  <g fill="none" stroke="#8091a8" stroke-width="5.8" stroke-linecap="butt" stroke-linejoin="miter">
    <path d="M972.8 1077.5 A26.4 26.4 0 0 0 925.5 1091.5 A18.5 19.35 0 1 0 926.75 1130.1 L952.1 1130.1"/>
    <line x1="967" y1="1115.5" x2="967" y2="1133"/>
    <line x1="979" y1="1091.5" x2="979" y2="1133"/>
    <line x1="991" y1="1103.4" x2="991" y2="1133"/>
  </g>
</svg>
</body>
</html>
